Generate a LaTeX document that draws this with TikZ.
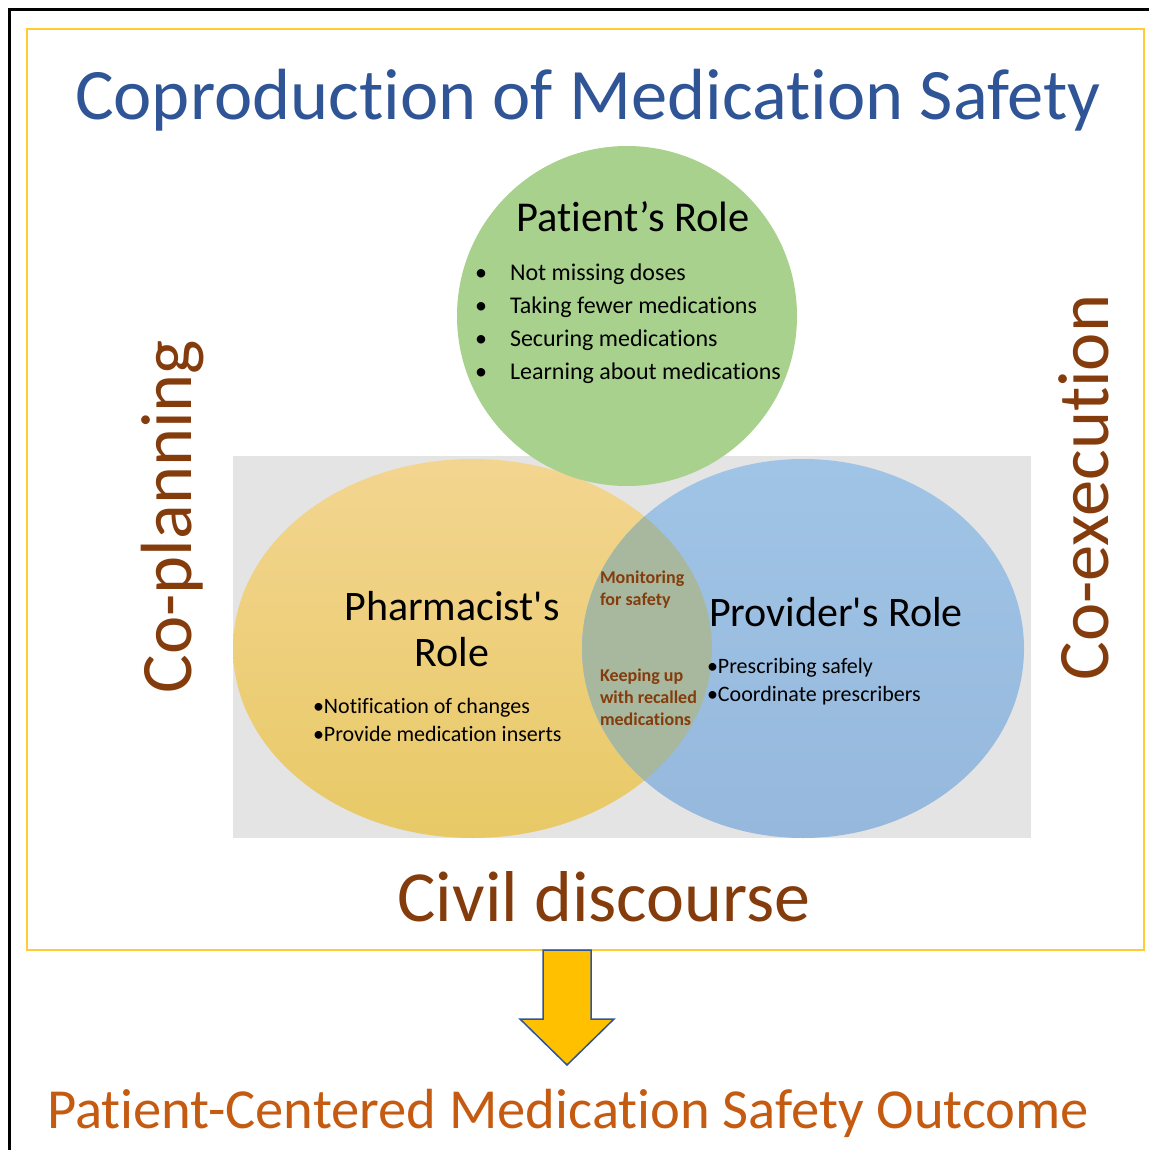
\documentclass[tikz,border=0pt]{standalone}
\usepackage{fontspec}
\setmainfont{Carlito}[RawFeature={-liga}]
\usetikzlibrary{shapes.geometric}
\definecolor{titleblue}{HTML}{2F5597}
\definecolor{brownc}{HTML}{843C0C}
\definecolor{orangec}{HTML}{C55A11}
\definecolor{boxyellow}{HTML}{FFCC33}
\definecolor{greenc}{HTML}{A9D18E}
\definecolor{yeltop}{HTML}{F3D590}
\definecolor{yelbot}{HTML}{E8C966}
\definecolor{bluetop}{HTML}{A0C4E6}
\definecolor{bluebot}{HTML}{95B8DC}
\definecolor{overlapc}{HTML}{A8B89E}
\definecolor{grayc}{HTML}{E4E4E4}
\definecolor{arrowfill}{HTML}{FFC000}
\tikzset{
  txt/.style={inner sep=0pt, outer sep=0pt, anchor=base},
  txtw/.style={inner sep=0pt, outer sep=0pt, anchor=base west},
  rolefont/.style={font=\fontsize{42}{50}\selectfont},
  bulletfont/.style={font=\fontsize{22}{26}\selectfont},
  pbullet/.style={font=\fontsize{24}{28}\selectfont},
  overfont/.style={font=\fontsize{18}{22}\selectfont\bfseries, text=brownc},
  bigbrown/.style={font=\fontsize{72.5}{80}\selectfont, text=brownc},
}
\begin{document}
\begin{tikzpicture}[x=1pt,y=-1pt]
\useasboundingbox (0,0) rectangle (1148,1150);
% frames
\draw[line width=3pt, line cap=rect] (1148,10) -- (9,10) -- (9,1150);
\draw[boxyellow, line width=2pt] (27,29) rectangle (1144,950);
% title
\node[txt, text=titleblue, font=\fontsize{72.5}{80}\selectfont] (title) at (588,120) {Coproduction of Medication Safety};
% gray background
\fill[grayc] (233,456) rectangle (1031,838);
% ellipses
\node[ellipse, minimum width=479pt, minimum height=379pt, inner sep=0pt, top color=yeltop, bottom color=yelbot] (pharm) at (472.5,648.5) {};
\node[ellipse, minimum width=442pt, minimum height=379pt, inner sep=0pt, top color=bluetop, bottom color=bluebot] (prov) at (803,648.5) {};
\begin{scope}
  \clip (472.5,648.5) ellipse [x radius=239.5, y radius=189.5];
  \fill[overlapc] (803,648.5) ellipse [x radius=221, y radius=189.5];
\end{scope}
% patient circle
\node[circle, minimum size=340pt, inner sep=0pt, fill=greenc] (patient) at (627,316) {};
% patient text
\node[txt, font=\fontsize{42.5}{50}\selectfont] (ptitle) at (633,232) {Patient’s Role};
\foreach \t/\y [count=\i] in {Not missing doses/280, Taking fewer medications/313, Securing medications/346, Learning about medications/379}{
  \node[txtw, pbullet] (pb\i) at (510,\y) {\t};
  \node[txt, pbullet] (pbd\i) at (481,\y) {•};
}
% pharmacist text
\node[txt, rolefont] (phtitle1) at (452,620) {Pharmacist\textquotesingle s};
\node[txt, rolefont] (phtitle2) at (452,666) {Role};
\node[txtw, bulletfont] (phb1) at (313,713) {•Notification of changes};
\node[txtw, bulletfont] (phb2) at (313,741) {•Provide medication inserts};
% provider text
\node[txtw, rolefont] (prtitle) at (709,626) {Provider\textquotesingle s Role};
\node[txtw, bulletfont] (prb1) at (707,673) {•Prescribing safely};
\node[txtw, bulletfont] (prb2) at (707,701) {•Coordinate prescribers};
% overlap text
\node[txtw, overfont] (ov1) at (600,583) {Monitoring};
\node[txtw, overfont] (ov2) at (600,605) {for safety};
\node[txtw, overfont] (ov3) at (600,681) {Keeping up};
\node[txtw, overfont] (ov4) at (600,703) {with recalled};
\node[txtw, overfont] (ov5) at (600,725) {medications};
% side texts
\node[txt, bigbrown, rotate=90] (coplan) at (191,516.5) {Co-planning};
\node[txt, bigbrown, rotate=90] (coexec) at (1108,487.5) {Co-execution};
\node[txt, bigbrown, font=\fontsize{72}{80}\selectfont] (civil) at (604,921) {Civil discourse};
% arrow
\coordinate (arrtop) at (567,950);
\draw[fill=arrowfill, draw=titleblue, line width=1.5pt, line join=miter]
  (543,950) -- (591,950) -- (591,1019) -- (614,1019) -- (567,1065) -- (520,1019) -- (543,1019) -- cycle;
\node[txt, text=orangec, font=\fontsize{56.6}{64}\selectfont] (outcome) at (568,1128) {Patient-Centered Medication Safety Outcome};
\end{tikzpicture}
\end{document}
